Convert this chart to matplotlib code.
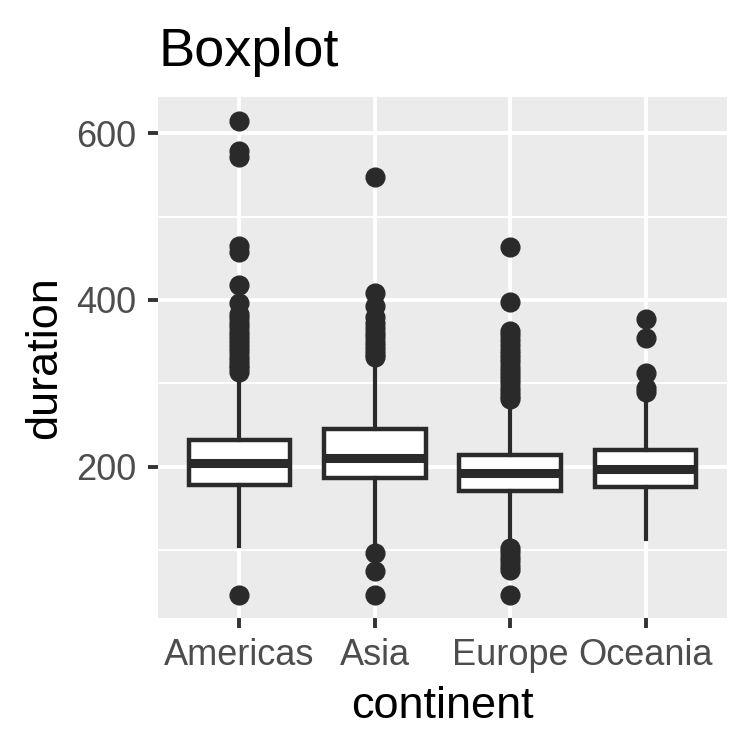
import matplotlib.pyplot as plt
from matplotlib.ticker import MultipleLocator

plt.rcParams['font.family'] = ['Liberation Sans', 'DejaVu Sans']

# box statistics
continents = ['Americas', 'Asia', 'Europe', 'Oceania']
q1 = [178, 187, 171, 176]
med = [205, 211, 193, 197]
q3 = [232, 245, 214, 220]
whislo = [105, 100, 105, 113]
whishi = [310, 328, 279, 286]

fliers_americas = [615, 579, 571, 465, 458, 418, 396, 383, 378, 372, 368, 362,
                   357, 352, 347, 342, 337, 332, 327, 322, 318, 314, 46]
fliers_asia = [547, 408, 393, 380, 372, 366, 360, 355, 350, 345, 340, 335, 331,
               97, 75, 46]
fliers_europe = [464, 398, 363, 358, 352, 346, 340, 335, 330, 325, 320, 315,
                 310, 305, 300, 295, 290, 285, 281, 103, 98, 92, 87, 81, 76, 46]
fliers_oceania = [377, 354, 312, 295, 290]
fliers = [fliers_americas, fliers_asia, fliers_europe, fliers_oceania]

DARK = '#2a2a2a'

stats = []
for i, name in enumerate(continents):
    stats.append({'label': name, 'q1': q1[i], 'med': med[i], 'q3': q3[i],
                  'whislo': whislo[i], 'whishi': whishi[i], 'fliers': fliers[i]})

fig = plt.figure(figsize=(7.5, 7.5), dpi=100)
ax = fig.add_axes([0.2107, 0.176, 0.7586, 0.6947])
ax.set_facecolor('#EBEBEB')

ax.bxp(stats, positions=range(1, 5), widths=0.75, patch_artist=True,
       showcaps=False,
       boxprops=dict(facecolor='white', edgecolor=DARK, linewidth=3.2),
       whiskerprops=dict(color=DARK, linewidth=3),
       medianprops=dict(color=DARK, linewidth=6.5, solid_capstyle='butt'),
       flierprops=dict(marker='o', markerfacecolor=DARK, markeredgecolor=DARK,
                       markersize=13.5, linestyle='none'),
       zorder=3)

ax.set_xlim(0.4, 4.6)
ax.set_ylim(18.6, 643.4)
ax.yaxis.set_major_locator(MultipleLocator(200))
ax.yaxis.set_minor_locator(MultipleLocator(100))
ax.set_xticks(range(1, 5))
ax.set_xticklabels(continents)

ax.grid(which='major', color='white', linewidth=2.8, zorder=0)
ax.grid(which='minor', axis='y', color='white', linewidth=1.4, zorder=0)
ax.set_axisbelow(True)
for s in ax.spines.values():
    s.set_visible(False)

ax.tick_params(which='major', length=7.5, width=2.8, color='#333333',
               labelcolor='#4D4D4D', labelsize=26, pad=7)
ax.tick_params(which='minor', length=0)
ax.tick_params(axis='y', pad=8)

ax.set_xlabel('continent', fontsize=32.5, labelpad=9)
ax.set_ylabel('duration', fontsize=32.5, labelpad=8)
ax.set_title('Boxplot', fontsize=39, loc='left', pad=22)

fig.savefig('out.png', dpi=100)
